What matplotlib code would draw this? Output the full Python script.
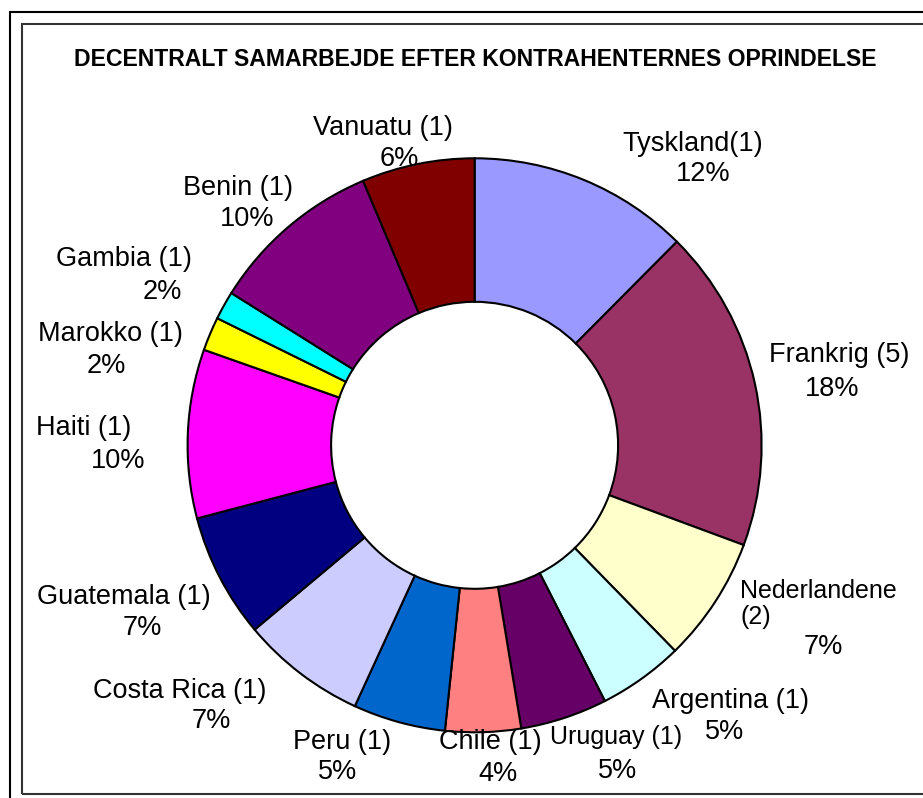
import matplotlib
matplotlib.use("Agg")
import matplotlib.pyplot as plt
from matplotlib.patches import Rectangle

plt.rcParams['font.family'] = ['Liberation Sans', 'DejaVu Sans']

##################################################################
# Data (clockwise from 12 o'clock)
##################################################################
countries = ['Tyskland(1)', 'Frankrig (5)', 'Nederlandene\n(2)', 'Argentina (1)',
             'Uruguay (1)', 'Chile (1)', 'Peru (1)', 'Costa Rica (1)',
             'Guatemala (1)', 'Haiti (1)', 'Marokko (1)', 'Gambia (1)',
             'Benin (1)', 'Vanuatu (1)']
shares = [12.45, 18.2, 7.05, 4.8, 4.9, 4.25, 5.2, 7.05, 7.0, 9.5, 1.9, 1.6, 9.75, 6.35]
pct_labels = ['12%', '18%', '7%', '5%', '5%', '4%', '5%', '7%', '7%', '10%',
              '2%', '2%', '10%', '6%']
colors = ['#9999FF', '#993366', '#FFFFCC', '#CCFFFF', '#660066', '#FF8080',
          '#0066CC', '#CCCCFF', '#000080', '#FF00FF', '#FFFF00', '#00FFFF',
          '#800080', '#800000']

title = 'DECENTRALT SAMARBEJDE EFTER KONTRAHENTERNES OPRINDELSE'

##################################################################
# Layout (pixel positions of label centres, from top-left)
##################################################################
W, H = 923, 798
cx, cy, r = 474.6, 445.3, 287

name_pos = [(693, 144), (839, 355), (740, 604), (730, 701), (616, 737),
            (490, 742), (342, 742), (180, 691), (124, 597), (84, 428),
            (110, 334), (124, 259), (238, 188), (383, 128)]
pct_pos = [(703, 174), (832, 389), (823, 647), (725, 732), (618, 771),
           (498, 774), (338, 772), (211, 721), (142, 628), (118, 461),
           (106, 366), (162, 292), (247, 219), (399, 159)]
small_font = {2, 4}

fig = plt.figure(figsize=(W / 100, H / 100), dpi=100)

# frames
fig.patches.append(Rectangle((10 / W, -0.05), 1.1, 1 - 12 / H + 0.05,
                             transform=fig.transFigure, fill=False,
                             edgecolor='black', linewidth=1.5))
fig.patches.append(Rectangle((22 / W, 1 - 794 / H), 1.1, (794 - 24) / H,
                             transform=fig.transFigure, fill=False,
                             edgecolor='#333333', linewidth=1.5))

ax = fig.add_axes([(cx - r) / W, (H - cy - r) / H, 2 * r / W, 2 * r / H])
ax.pie(shares, colors=colors, startangle=90, counterclock=False, radius=1,
       wedgeprops=dict(width=0.5, edgecolor='black', linewidth=1.5))
ax.set_xlim(-1, 1)
ax.set_ylim(-1, 1)
ax.set_aspect('equal')
ax.axis('off')

for i, (name, pct) in enumerate(zip(countries, pct_labels)):
    nx, ny = name_pos[i]
    px, py = pct_pos[i]
    if i in small_font:
        if '\n' in name:
            fig.text(nx / W, 1 - ny / H, name, ha='left', va='center',
                     fontsize=18, linespacing=1.15)
        else:
            fig.text(nx / W, 1 - ny / H, name, ha='center', va='center', fontsize=18)
    else:
        fig.text(nx / W, 1 - ny / H, name, ha='center', va='center', fontsize=19.5)
    fig.text(px / W, 1 - py / H, pct, ha='center', va='center', fontsize=19.5)

fig.text(475 / W, 1 - 59 / H, title, ha='center', va='center',
         fontsize=16.6, fontweight='bold')

fig.savefig('out.png', dpi=100)
